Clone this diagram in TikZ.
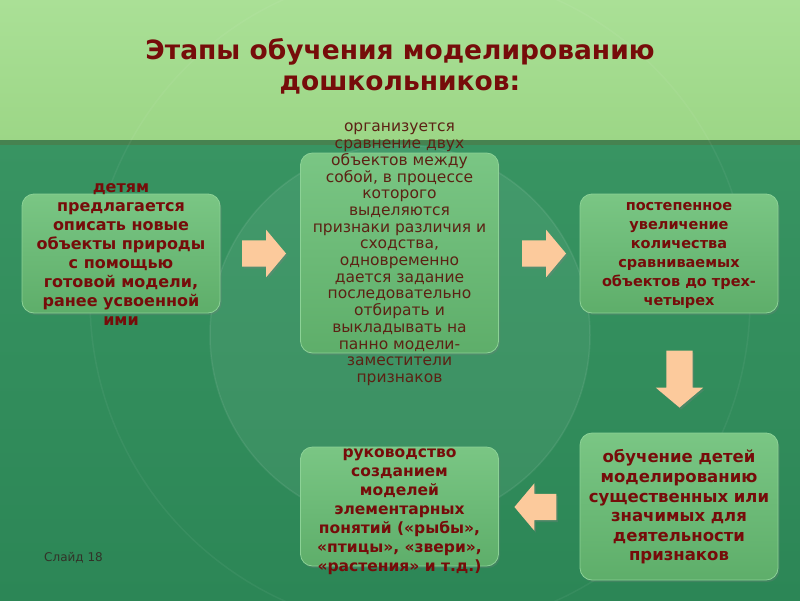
\documentclass[tikz,border=0pt]{standalone}
\usepackage{fontspec}
\setmainfont{DejaVu Sans}
\usetikzlibrary{shapes.arrows,shadows}
\definecolor{topgreen}{RGB}{156,214,134}
\definecolor{topgreenlight}{RGB}{170,224,150}
\definecolor{botgreen}{RGB}{44,134,86}
\definecolor{botgreenlight}{RGB}{56,148,98}
\definecolor{divline}{RGB}{70,130,80}
\definecolor{boxtop}{RGB}{122,198,132}
\definecolor{boxbot}{RGB}{94,174,106}
\definecolor{boxedge}{RGB}{140,210,150}
\definecolor{txtred}{RGB}{118,12,10}
\definecolor{txtbrown}{RGB}{92,34,20}
\definecolor{peach}{RGB}{252,202,156}
\definecolor{slidegray}{RGB}{50,50,40}
\tikzset{
  bx/.style={rectangle, rounded corners=12pt, top color=boxtop, bottom color=boxbot,
    draw=boxedge, line width=0.8pt, minimum width=198pt, minimum height=119pt,
    drop shadow={opacity=0.25, shadow xshift=1.5pt, shadow yshift=-2pt}},
  btxt/.style={align=center, text=txtred, font=\bfseries\fontsize{16}{19}\selectfont, inner sep=0pt},
  barrow/.style={single arrow, fill=peach, inner xsep=0pt, inner ysep=13pt,
    single arrow head extend=10.5pt, single arrow tip angle=100,
    minimum height=44pt,
    drop shadow={opacity=0.3, shadow xshift=1.5pt, shadow yshift=-2pt}},
  ttl/.style={text=txtred, font=\bfseries\fontsize{26.5}{30}\selectfont, inner sep=0pt}
}
\begin{document}
\begin{tikzpicture}[x=1pt,y=-1pt]
\useasboundingbox (0,0) rectangle (800,600);
% background
\shade[top color=topgreenlight, bottom color=topgreen] (0,0) rectangle (800,142);
\shade[top color=botgreenlight, bottom color=botgreen] (0,142) rectangle (800,600);
\fill[divline] (0,140) rectangle (800,145);
\fill[white, opacity=0.06] (400,335) circle (190);
\draw[white, opacity=0.08, line width=1.5pt] (400,335) circle (190);
\draw[white, opacity=0.05, line width=1.5pt] (420,300) circle (330);
% title
\node[ttl] (t1) at (400,52) {Этапы обучения моделированию};
\node[ttl] (t2) at (400,85) {дошкольников:};
% boxes
\node[bx] (b1) at (121,253.5) {};
\node[bx, minimum height=200pt] (b2) at (399.5,253) {};
\node[bx] (b3) at (679,253.5) {};
\node[bx, minimum height=147pt] (b4) at (679,506.5) {};
\node[bx] (b5) at (399.5,506.5) {};
% texts
\node[btxt] (x1) at (121,255) {детям\\предлагается\\описать новые\\объекты природы\\с помощью\\готовой модели,\\ранее усвоенной\\ими};
\node[btxt, text=txtbrown, font=\fontsize{15.5}{16.7}\selectfont] (x2) at (399.5,254.5) {организуется\\сравнение двух\\объектов между\\собой, в процессе\\которого\\выделяются\\признаки различия и\\сходства,\\одновременно\\дается задание\\последовательно\\отбирать и\\выкладывать на\\панно модели-\\заместители\\признаков};
\node[btxt, font=\bfseries\fontsize{14.5}{19}\selectfont] (x3) at (679,255) {постепенное\\увеличение\\количества\\сравниваемых\\объектов до трех-\\четырех};
\node[btxt, font=\bfseries\fontsize{16.5}{19.6}\selectfont] (x4) at (679,507) {обучение детей\\моделированию\\существенных или\\значимых для\\деятельности\\признаков};
\node[btxt, font=\bfseries\fontsize{15.5}{19}\selectfont] (x5) at (399.5,511.5) {руководство\\созданием\\моделей\\элементарных\\понятий («рыбы»,\\«птицы», «звери»,\\«растения» и т.д.)};
% arrows
\node[barrow] (a1) at (258.5,253.5) {};
\node[barrow] (a2) at (538.5,253.5) {};
\node[barrow, shape border rotate=270, inner xsep=13pt, inner ysep=0pt, minimum height=57pt] (a3) at (679.5,373.5) {};
\node[barrow, shape border rotate=180, minimum height=42pt] (a4) at (541,507) {};
% slide label
\node[text=slidegray, font=\fontsize{12}{14}\selectfont, inner sep=0pt] (sl) at (73.5,558) {Слайд 18};
\end{tikzpicture}
\end{document}
